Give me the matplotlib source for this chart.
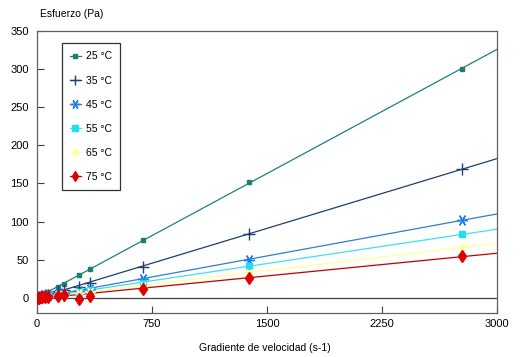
import numpy as np
import matplotlib
matplotlib.use("Agg")
import matplotlib.pyplot as plt

plt.rcParams['font.family'] = ['Liberation Sans', 'DejaVu Sans']

shear = [6.9, 13.9, 27.7, 34.6, 55.4, 69.2, 138.5, 173.1, 277, 346, 692, 1385, 2770]
labels = ["25 °C", "35 °C", "45 °C", "55 °C", "65 °C", "75 °C"]
stress_25 = [0.8, 1.5, 3.0, 3.8, 6.0, 7.5, 14.5, 18.0, 30.0, 38.0, 76.0, 152.0, 300.0]
stress_35 = [0.4, 0.9, 1.7, 2.1, 3.4, 4.2, 8.5, 10.5, 14.0, 20.0, 41.0, 84.0, 169.0]
stress_45 = [0.3, 0.5, 1.0, 1.3, 2.0, 2.5, 5.0, 6.3, 9.0, 12.0, 25.0, 50.0, 102.0]
stress_55 = [0.2, 0.4, 0.8, 1.0, 1.6, 2.0, 4.0, 5.0, 7.5, 10.0, 20.0, 42.0, 83.0]
stress_65 = [0.2, 0.3, 0.6, 0.8, 1.3, 1.6, 3.2, 4.0, 6.0, 8.0, 16.0, 33.0, 66.0]
stress_75 = [0.1, 0.3, 0.5, 0.7, 1.1, 1.4, 2.8, 3.5, -1.0, 2.0, 12.0, 26.0, 55.0]
series = [stress_25, stress_35, stress_45, stress_55, stress_65, stress_75]

line_colors = ["#1f8080", "#1f3f6f", "#2f7fcf", "#3fdfef", "#ffff99", "#c00000"]
marker_colors = ["#1f7f6f", "#1f3f6f", "#1f7fef", "#1fe0f0", "#ffffa0", "#e00000"]
markers = ["s", "+", (6, 2, 90), "s", (6, 2, 90), "d"]
msizes = [3, 9, 8, 5, 7, 6]

fig = plt.figure(figsize=(5.25, 3.57), dpi=100)
ax = fig.add_axes([37/525, 44/357, 460/525, 282/357])

xfit = np.array([0, 3000])
handles = []
for ys, lab, lc, mc, mk, ms in zip(series, labels, line_colors, marker_colors, markers, msizes):
    k, b = np.polyfit(shear, ys, 1)
    ax.plot(xfit, k * xfit + b, color=lc, lw=0.9, zorder=2)
    ax.plot(shear, ys, linestyle='none', marker=mk, color=mc, ms=ms,
            mew=1.0, zorder=3)
    h, = ax.plot([], [], color=lc, lw=0.9, marker=mk, mfc=mc, mec=mc,
                 ms=ms * 0.85, mew=1.0, label=lab)
    handles.append(h)

ax.axhline(0, color="#404040", lw=0.9, zorder=1)
ax.set_xlim(0, 3000)
ax.set_ylim(-20, 350)
ax.set_xticks([0, 750, 1500, 2250, 3000])
ax.set_yticks([0, 50, 100, 150, 200, 250, 300, 350])
ax.tick_params(direction='in', length=5, width=0.8, color="#404040", labelsize=8, pad=4)
ax.tick_params(axis='y', pad=6)
for s in ax.spines.values():
    s.set_color("#606060")
    s.set_linewidth(0.9)

leg = ax.legend(handles=handles, loc='upper left', bbox_to_anchor=(0.054, 0.957),
                fontsize=7.5, frameon=True, fancybox=False, edgecolor='black',
                handlelength=1.0, handletextpad=0.5, labelspacing=1.35,
                borderpad=0.8, borderaxespad=0)
leg.get_frame().set_linewidth(0.9)

fig.text(40/525, 1 - 14/357, "Esfuerzo (Pa)", fontsize=7.5, va='center', ha='left')
fig.text(265/525, 1 - 348/357, "Gradiente de velocidad (s-1)", fontsize=7.5, va='center', ha='center')

fig.savefig("out.png", dpi=100)
